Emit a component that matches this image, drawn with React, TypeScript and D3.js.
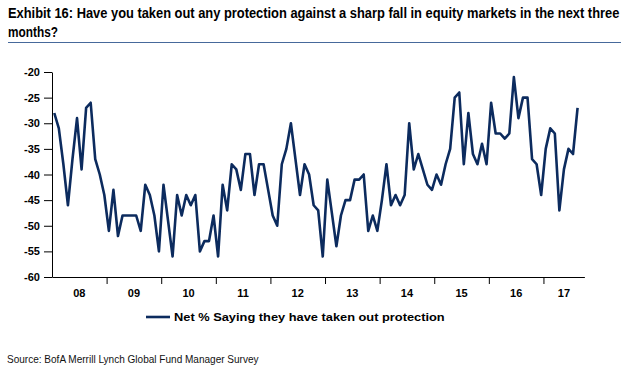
import { useEffect, useRef } from "react";
import * as d3 from "d3";

// monthly readings, Jan 2008 .. Aug 2017
const values2008 = [-28, -31, -38, -46, -37, -29, -39, -27, -26, -37, -40, -44];
const values2009 = [-51, -43, -52, -48, -48, -48, -48, -51, -42, -44, -48, -55];
const values2010 = [-42, -49, -56, -44, -48, -44, -46, -44, -55, -53, -53, -48];
const values2011 = [-56, -42, -47, -38, -39, -43, -36, -36, -44, -38, -38, -43];
const values2012 = [-48, -50, -38, -35, -30, -37, -44, -38, -40, -46, -47, -56];
const values2013 = [-41, -47.5, -54, -48, -45, -45, -41, -41, -40, -51, -48, -51];
const values2014 = [-45, -38, -46, -44, -46, -44, -30, -39, -36, -39, -42, -43];
const values2015 = [-40, -42, -38, -35, -25, -24, -38, -28, -36, -38, -34, -38];
const values2016 = [-26, -32, -32, -33, -32, -21, -29, -25, -25, -37, -38, -44];
const values2017 = [-35, -31, -32, -47, -39, -35, -36, -27];

const yearLabels = ["08", "09", "10", "11", "12", "13", "14", "15", "16", "17"];
const yTicks = [-20, -25, -30, -35, -40, -45, -50, -55, -60];

const series = [
  ...values2008, ...values2009, ...values2010, ...values2011, ...values2012,
  ...values2013, ...values2014, ...values2015, ...values2016, ...values2017,
];

const TITLE_1 =
  "Exhibit 16: Have you taken out any protection against a sharp fall in equity markets in the next three";
const TITLE_2 = "months?";
const LEGEND = "Net % Saying they have taken out protection";
const SOURCE = "Source: BofA Merrill Lynch Global Fund Manager Survey";

const LINE_COLOR = "#0c2b5e";
const NARROW = "'Liberation Sans Narrow', 'Arial Narrow', 'Liberation Sans', Arial, sans-serif";
const SANS = "'Liberation Sans', Arial, Helvetica, sans-serif";

export default function App() {
  const svgRef = useRef<SVGSVGElement>(null);

  useEffect(() => {
    const svg = svgRef.current;
    if (!svg) return;
    const sel = d3.select(svg);
    sel.selectAll("*").remove();

    const left = 52;
    const right = 584.4;
    const top = 72;
    const bottom = 277;
    const slots = 117; // months on the axis

    const x = d3.scaleLinear().domain([-0.5, slots - 0.5]).range([left, right]);
    const y = d3.scaleLinear().domain([-60, -20]).range([bottom, top]);

    // squeeze a text horizontally so it spans the given width
    const fitText = (
      str: string, px: number, py: number, width: number,
      size: number, family: string, weight: string, fill = "#000"
    ) => {
      const g = sel.append("g");
      const t = g.append("text")
        .attr("x", 0).attr("y", 0)
        .attr("font-family", family).attr("font-weight", weight).attr("font-size", size)
        .attr("fill", fill)
        .text(str);
      const natural = (t.node() as SVGTextElement).getComputedTextLength() || width;
      g.attr("transform", `translate(${px},${py}) scale(${width / natural},1)`);
    };

    // title
    fitText(TITLE_1, 8, 17.5, 612, 14, NARROW, "bold");
    fitText(TITLE_2, 8, 37, 50, 14, NARROW, "bold");
    sel.append("line")
      .attr("x1", 8).attr("x2", 621).attr("y1", 42.5).attr("y2", 42.5)
      .attr("stroke", "#46699b").attr("stroke-width", 1.2);

    // y axis
    const yAxis = sel.append("g")
      .attr("transform", `translate(${left},0)`)
      .call(
        d3.axisLeft(y).tickValues(yTicks).tickSize(8).tickSizeOuter(0).tickPadding(4)
          .tickFormat((d) => String(d))
      );
    yAxis.select(".domain").attr("stroke", "#000");
    yAxis.selectAll(".tick line").attr("stroke", "#000");
    yAxis.selectAll(".tick text")
      .attr("font-family", SANS).attr("font-weight", "bold").attr("font-size", 11)
      .attr("fill", "#000");

    // x axis with year boundaries
    const boundaries = d3.range(1, yearLabels.length).map((k) => k * 12 - 0.5);
    const xAxis = sel.append("g")
      .attr("transform", `translate(0,${bottom})`)
      .call(
        d3.axisBottom(x).tickValues(boundaries).tickSize(7).tickSizeOuter(0)
          .tickFormat(() => "")
      );
    xAxis.select(".domain").attr("stroke", "#000");
    xAxis.selectAll(".tick line").attr("stroke", "#000");

    const edges = [-0.5, ...boundaries, slots - 0.5];
    sel.append("g")
      .selectAll("text")
      .data(yearLabels)
      .enter()
      .append("text")
      .attr("x", (_d, i) => (x(edges[i]) + x(edges[i + 1])) / 2)
      .attr("y", 297)
      .attr("text-anchor", "middle")
      .attr("font-family", SANS).attr("font-weight", "bold").attr("font-size", 11)
      .text((d) => d);

    // series
    const line = d3.line<number>()
      .x((_d, i) => x(i))
      .y((d) => y(d));
    sel.append("path")
      .datum(series)
      .attr("d", line)
      .attr("fill", "none")
      .attr("stroke", LINE_COLOR)
      .attr("stroke-width", 2.6)
      .attr("stroke-linejoin", "round");

    // legend
    sel.append("line")
      .attr("x1", 146).attr("x2", 170).attr("y1", 317).attr("y2", 317)
      .attr("stroke", LINE_COLOR).attr("stroke-width", 2.6);
    fitText(LEGEND, 174, 321, 271, 11.5, SANS, "bold");

    // source
    fitText(SOURCE, 7, 363, 252, 11, NARROW, "normal", "#111");
  }, []);

  return (
    <svg
      ref={svgRef}
      width={640}
      height={387}
      style={{ position: "absolute", left: 0, top: 0, background: "#fff", display: "block" }}
    />
  );
}
